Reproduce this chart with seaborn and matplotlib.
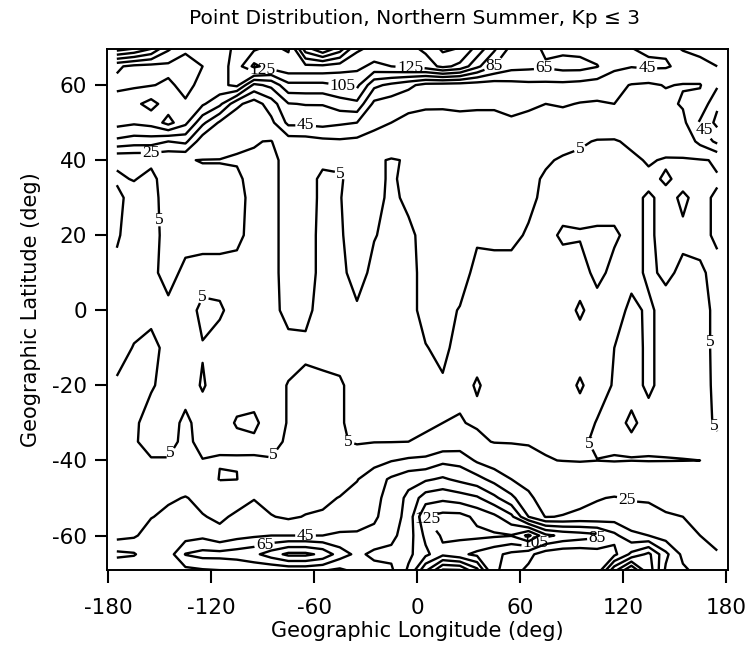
import numpy as np
import matplotlib
matplotlib.use("Agg")
import matplotlib.pyplot as plt
import seaborn as sns

# Grid: longitude centres (deg) and latitude rows (deg)
lons = [-175, -165, -155, -145, -135, -125, -115, -105, -95, -85, -75, -65,
        -55, -45, -35, -25, -15, -5, 5, 15, 25, 35, 45, 55,
        65, 75, 85, 95, 105, 115, 125, 135, 145, 155, 165, 175]
lats = [70, 65, 60, 55, 50, 45, 40, 35, 30, 20, 10, 0,
        -10, -20, -30, -35, -40, -45, -50, -55, -60, -65, -70]

# Point counts per latitude row
lat_p70 = [180, 170, 150, 110, 90, 90, 95, 110, 120, 130, 120, 200, 230, 200, 150, 140, 130, 140,
           150, 170, 165, 140, 110, 80, 75, 60, 60, 58, 55, 50, 45, 42, 42, 46, 50, 55]
lat_p65 = [88, 80, 78, 80, 75, 85, 95, 115, 150, 135, 140, 140, 140, 135, 130, 120, 125, 130,
           135, 150, 140, 110, 85, 72, 70, 68, 72, 72, 66, 50, 46, 48, 47, 40, 40, 45]
lat_p60 = [80, 82, 84, 88, 80, 90, 100, 110, 60, 70, 100, 100, 100, 105, 110, 70, 60, 50,
           38, 36, 35, 34, 34, 38, 40, 40, 40, 38, 35, 30, 24, 22, 26, 24, 24, 42]
lat_p55 = [95, 100, 112, 95, 87, 88, 70, 30, 15, 35, 64, 66, 66, 75, 80, 40, 35, 30,
           28, 27, 27, 26, 26, 27, 28, 25, 27, 24, 23, 25, 18, 17, 20, 27, 30, 62]
lat_p50 = [92, 88, 92, 112, 90, 50, 22, 10, 8, 20, 50, 50, 52, 48, 45, 30, 25, 20,
           18, 20, 22, 23, 23, 24, 20, 18, 16, 14, 10, 9, 10, 12, 13, 20, 48, 70]
lat_p45 = [60, 55, 55, 45, 50, 12, 9, 6, 5.5, 4.5, 15, 16, 20, 22, 20, 18, 15, 12,
           12, 14, 15, 16, 15, 14, 12, 11, 8, 6, 4.5, 4.5, 6, 8, 8, 12, 30, 50]
lat_p40 = [5.6, 6.5, 5.8, 7, 5.3, 4.8, 4.8, 4.5, 4, 3.5, 7, 7, 6, 6, 5.5, 7, 4, 6,
           8, 9, 9, 8, 7, 6, 5.5, 6, 4, 3.5, 3.5, 3.5, 4, 5.5, 4.5, 4, 4, 6]
lat_p35 = [4.5, 5.2, 4, 7, 6.5, 6, 6, 6, 3, 3.5, 7, 7, 4, 4.5, 7, 7, 4, 7,
           8, 9, 9, 9, 8, 8, 7, 4, 3.5, 3.5, 3.5, 3.5, 3.5, 4, 5.5, 4, 4, 4.5]
lat_p30 = [6, 3.5, 3.5, 7, 7, 7, 7, 6.5, 3.5, 3.5, 7, 7, 4, 4.8, 7, 6.5, 4, 6,
           8, 9, 9, 8, 8, 7, 6, 4, 3.5, 3.5, 3.5, 3.5, 4, 5.5, 4, 5.5, 4, 5.6]
lat_p20 = [5.5, 3, 3.5, 6.5, 6.5, 6.5, 6.5, 6, 3.5, 3.5, 7, 6.5, 4, 4.5, 7, 5.2, 4, 4,
           6.5, 8, 8, 5.5, 6, 6, 4.5, 4, 5.5, 5.3, 5.5, 5.5, 4, 5.5, 4, 4.5, 4, 5.6]
lat_p10 = [4, 4, 4, 6.5, 4, 3.5, 3.5, 3.5, 3, 3.5, 7, 6.5, 4, 4, 6.5, 4, 3.5, 3.5,
           6.5, 7, 6.5, 4, 3.5, 3.5, 3.5, 3.5, 3.5, 3.5, 6, 4, 4, 5.5, 4.5, 5.5, 5.5, 4]
lat_00 = [3.5, 3.5, 4, 4, 3.5, 5.8, 5.5, 3.5, 3.5, 3.5, 6.5, 6, 3.5, 3.5, 4.5, 3.5, 3.5, 3.5,
          6.5, 6, 4.8, 3.5, 3.5, 3.5, 3.5, 3.5, 3.5, 5.5, 3.5, 3.5, 5.8, 4.5, 6, 6, 6, 4.3]
lat_m10 = [3.5, 5.2, 6, 4, 3.5, 4.8, 3.5, 3.5, 3.5, 3.5, 3.5, 4.2, 3.5, 3.5, 3.5, 3.5, 3.5, 3.5,
           4.8, 6, 3.5, 3.5, 3.5, 3.5, 3.5, 3.5, 3.5, 3.5, 3.5, 5, 6, 4.5, 6, 6, 6, 4.3]
lat_m20 = [5.5, 6, 5.3, 4, 3.5, 5.3, 3.5, 3.5, 3.5, 3.5, 5.2, 6, 6, 5.5, 3.5, 3.5, 3.5, 3.5,
           3.5, 4.5, 3.5, 5.4, 3.5, 3.5, 3.5, 3.5, 3.5, 5.4, 3.5, 5.3, 6, 4.5, 6, 6, 6, 4.4]
lat_m30 = [5.5, 5.5, 3.8, 3.5, 5.8, 3.5, 3.5, 5.3, 5.6, 3.5, 5.2, 6, 6, 5.5, 3.5, 3.5, 3.5, 3.5,
           4, 5, 5.5, 4, 3.5, 3.5, 3.5, 3.5, 3.5, 3.5, 5.2, 6, 4.5, 6, 6, 6, 6, 4.6]
lat_m35 = [5.5, 5.3, 4, 4, 5.8, 4, 4, 4.2, 4.5, 4, 5.5, 6, 6, 5.5, 4.5, 4.5, 4.5, 5,
           6, 9, 12, 7, 4.5, 4.5, 4.5, 4.5, 4.5, 4.5, 5.5, 6, 5.5, 6, 6, 6, 6, 5.5]
lat_m40 = [5.2, 5.3, 5.2, 5.2, 5.6, 5.1, 5.4, 5.3, 5.2, 5.2, 5.5, 6, 6, 6, 8, 18, 24, 28,
           30, 40, 38, 22, 14, 10, 7, 5.2, 4.9, 4.7, 4.95, 4.6, 4.9, 4.7, 4.8, 4.9, 5.0, 5.3]
lat_m45 = [8, 9, 10, 12, 14, 12, 4.5, 4.8, 12, 10, 9, 10, 11, 14, 24, 36, 48, 58,
           62, 68, 60, 52, 38, 25, 20, 10, 9, 9, 10, 12, 12, 12, 11, 10, 9, 8]
lat_m50 = [12, 14, 16, 22, 26, 20, 14, 18, 24, 18, 16, 18, 20, 26, 32, 40, 52, 70,
           95, 100, 95, 88, 70, 50, 28, 18, 16, 18, 24, 26, 24, 24, 22, 18, 15, 12]
lat_m55 = [16, 19, 24, 30, 32, 26, 22, 28, 34, 26, 22, 26, 28, 32, 38, 42, 55, 72,
           125, 132, 132, 120, 110, 90, 45, 24, 26, 30, 30, 35, 30, 28, 26, 25, 20, 16]
lat_m60 = [18, 22, 35, 35, 36, 40, 30, 38, 42, 45, 45, 45, 45, 48, 47, 50, 60, 75,
           110, 128, 130, 130, 128, 126, 150, 110, 100, 95, 90, 70, 50, 45, 35, 30, 25, 21]
lat_m65 = [50, 47, 30, 35, 66, 72, 72, 75, 80, 95, 110, 110, 100, 75, 60, 70, 70, 80,
           100, 120, 110, 100, 90, 80, 70, 55, 50, 50, 55, 60, 90, 110, 70, 40, 30, 26]
lat_m70 = [22, 22, 25, 28, 35, 38, 40, 40, 45, 40, 40, 40, 38, 35, 45, 55, 60, 90,
           150, 200, 200, 160, 90, 70, 60, 45, 45, 45, 60, 130, 180, 120, 60, 50, 40, 35]

rows = [lat_p70, lat_p65, lat_p60, lat_p55, lat_p50, lat_p45, lat_p40, lat_p35, lat_p30,
        lat_p20, lat_p10, lat_00, lat_m10, lat_m20, lat_m30, lat_m35, lat_m40, lat_m45,
        lat_m50, lat_m55, lat_m60, lat_m65, lat_m70]

levels = [5, 25, 45, 65, 85, 105, 125, 145, 165, 185, 205, 225, 245, 265, 285]

# label anchor points (lon, lat) per level
labels_5 = [(-33, 39.6), (95, 43), (-155, 24), (-125, 9), (171, -8.5), (172, -31),
            (95, -37), (-144, -38), (-85, -38), (-55, -38)]
labels_25 = [(-155, 42), (122, -51)]
labels_45 = [(-65, 48.7), (165, 47), (134, 64.6), (-65, -61)]
labels_65 = [(74, 65.4), (-88, -64.4)]
labels_85 = [(46, 64.6), (105, -60.6)]
labels_105 = [(-43, 60.6), (69, -62)]
labels_125 = [(-90, 63), (-4, 65.4), (2, -57)]

sns.set_theme(style="white")
plt.rcParams["font.family"] = ["Liberation Serif", "DejaVu Serif"]
plt.rcParams["text.color"] = "black"
plt.rcParams["axes.labelcolor"] = "black"
plt.rcParams["xtick.color"] = "black"
plt.rcParams["ytick.color"] = "black"
plt.rcParams["axes.unicode_minus"] = False

Z = np.array(rows[::-1], dtype=float)
Y = np.array(lats[::-1], dtype=float)
X = np.array(lons, dtype=float)

fig = plt.figure(figsize=(7.47, 6.5), dpi=100)
ax = fig.add_axes([0.1426, 0.123, 0.8313, 0.8015])

cs = ax.contour(X, Y, Z, levels=levels, colors="black", linewidths=1.7)

# initialise labelling state for all levels, then place each label on its own level
cs.clabel(fmt="%d", fontsize=12.5, inline=True, inline_spacing=2, manual=[], colors="black")
nlev = len(cs.levels)
lev_list = list(cs.levels)
for lv, pts in [(5, labels_5), (25, labels_25), (45, labels_45), (65, labels_65),
                (85, labels_85), (105, labels_105), (125, labels_125)]:
    idx = lev_list.index(lv)
    cs.labelIndiceList = [idx]
    cs.labelLevelList = [lv] * nlev
    for (x, y) in pts:
        try:
            cs.add_label_near(x, y, inline=True, inline_spacing=2)
        except Exception:
            pass
for t in cs.labelTexts:
    t.set_rotation(0)

ax.set_xlim(-181, 181)
ax.set_ylim(-69.2, 69.6)
ax.set_xticks([-180, -120, -60, 0, 60, 120, 180])
ax.set_yticks([-60, -40, -20, 0, 20, 40, 60])
ax.tick_params(direction="out", length=9, width=1.5, labelsize=15.5,
               labelfontfamily="DejaVu Sans", colors="black", pad=11,
               bottom=True, left=True, top=False, right=False)
ax.tick_params(axis="y", pad=5)
for s in ax.spines.values():
    s.set_color("black")
    s.set_linewidth(1.4)

ax.set_xlabel("Geographic Longitude (deg)", fontsize=15, fontfamily="DejaVu Sans", labelpad=2)
ax.set_ylabel("Geographic Latitude (deg)", fontsize=15, fontfamily="DejaVu Sans", labelpad=8)
fig.text(0.555, 0.972, "Point Distribution, Northern Summer, Kp \u2264 3",
         ha="center", va="center", fontsize=14.5, fontfamily="DejaVu Sans")

fig.savefig("out.png", dpi=100, facecolor="white")
